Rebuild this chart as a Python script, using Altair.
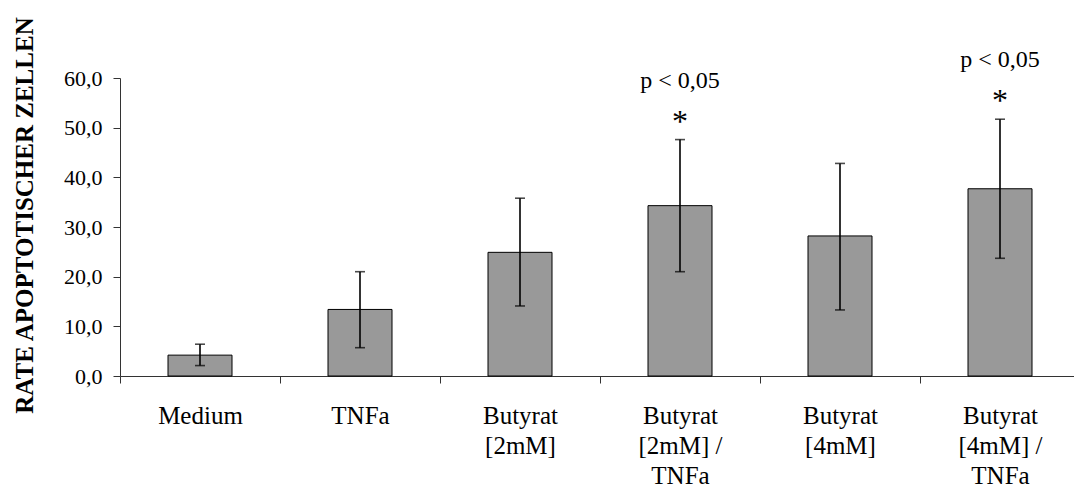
import altair as alt
import pandas as pd

categories = ["Medium", "TNFa", "Butyrat|[2mM]", "Butyrat|[2mM] /|TNFa", "Butyrat|[4mM]", "Butyrat|[4mM] /|TNFa"]
means = [4.2, 13.4, 24.9, 34.3, 28.2, 37.7]
err_lo = [2.1, 5.7, 14.1, 21.0, 13.3, 23.7]
err_hi = [6.4, 21.0, 35.8, 47.6, 42.8, 51.7]
sig = ["", "", "", "p < 0,05", "", "p < 0,05"]
y_ticks = [0, 10, 20, 30, 40, 50, 60]

df = pd.DataFrame({"cat": categories, "mean": means, "lo": err_lo, "hi": err_hi, "sig": sig})

FONT = "Liberation Serif"

x = alt.X(
    "cat:N",
    sort=categories,
    scale=alt.Scale(domain=categories, paddingInner=0, paddingOuter=0, range=[0, 960]),
    axis=alt.Axis(
        title=None, labelAngle=0, labelExpr="split(datum.label, '|')",
        tickBand="extent", tickSize=7, labelPadding=20,
        labelFont=FONT, labelFontSize=25, labelLineHeight=30, labelColor="black",
        labelBaseline="top", domainColor="#333", tickColor="#333", labelLimit=0,
    ),
)

y = alt.Y(
    "mean:Q",
    scale=alt.Scale(domain=[0, 60]),
    axis=alt.Axis(
        values=y_ticks, grid=False, gridColor="white",
        labelExpr="replace(format(datum.value, '.1f'), '.', ',')",
        title="RATE APOPTOTISCHER ZELLEN", titleFont=FONT, titleFontSize=25,
        titleFontWeight="bold", titleColor="black", titleX=-96, titleY=137,
        titleAngle=270, titleAlign="center", titleBaseline="middle",
        tickSize=7, labelPadding=11, labelFont=FONT, labelFontSize=22,
        labelColor="black", domainColor="#333", tickColor="#333",
    ),
)

base = alt.Chart(df)

bars = base.mark_bar(width=alt.RelativeBandSize(0.4), color="#999999", stroke="black", strokeWidth=1).encode(x=x, y=y)

rule = base.mark_rule(color="black", strokeWidth=1.6).encode(x=x, y=alt.Y("lo:Q"), y2="hi:Q")
cap_hi = base.mark_tick(color="black", thickness=1.6, size=10).encode(x=x, y=alt.Y("hi:Q"))
cap_lo = base.mark_tick(color="black", thickness=1.6, size=10).encode(x=x, y=alt.Y("lo:Q"))

sig_base = base.transform_filter("datum.sig != ''")
p_text = sig_base.mark_text(font=FONT, fontSize=24, dy=-52, baseline="alphabetic", color="black").encode(
    x=x, y=alt.Y("hi:Q"), text="sig:N"
)
star = sig_base.mark_text(font=FONT, fontSize=32, dy=-8, baseline="alphabetic", color="black").encode(
    x=x, y=alt.Y("hi:Q"), text=alt.value("*")
)

chart = alt.layer(bars, rule, cap_hi, cap_lo, p_text, star).properties(
    width=954, height=298,
    background="white",
    autosize=alt.AutoSizeParams(type="none"),
    padding={"left": 120, "top": 78, "right": 0, "bottom": 114},
).configure_view(strokeWidth=0, stroke="transparent")

chart.save("out.html", embed_options={"renderer": "svg", "actions": False})
